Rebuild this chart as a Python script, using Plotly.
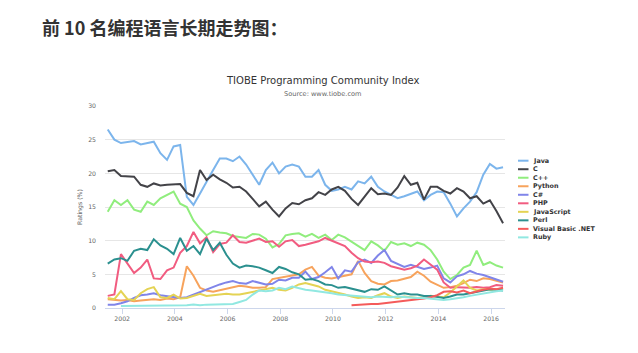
import plotly.graph_objects as go

# quarterly sample dates (mid-month) from 2001-06 to 2016-06
dates = []
y, m = 2001, 6
for _ in range(61):
    dates.append(f"{y:04d}-{m:02d}-15")
    m += 3
    if m > 12:
        m -= 12
        y += 1

java = [26.5, 25.0, 24.5, 24.6, 24.8, 24.3, 24.5, 24.7, 23.0, 22.0, 24.0, 24.2, 16.5, 15.3, 17.0, 18.8,
        20.5, 22.2, 22.2, 21.8, 22.5, 21.3, 19.7, 18.3, 20.5, 21.6, 20.0, 21.0, 21.3, 21.0, 19.5, 19.5,
        20.5, 18.3, 17.4, 17.6, 18.0, 17.6, 18.8, 18.5, 19.5, 18.0, 17.3, 16.8, 16.3, 16.6, 17.0, 17.3,
        16.0, 16.8, 17.3, 17.2, 15.5, 13.6, 14.8, 15.8, 17.2, 19.8, 21.4, 20.7, 20.9]
c_lang = [20.3, 20.5, 19.6, 19.5, 19.5, 18.3, 18.0, 18.5, 18.2, 18.3, 18.3, 18.4, 17.1, 16.6, 20.5, 19.0,
          19.8, 19.1, 18.6, 17.9, 18.0, 17.3, 16.2, 15.1, 15.8, 14.6, 13.6, 14.8, 15.6, 15.4, 16.0, 16.3,
          17.2, 16.8, 17.6, 18.0, 17.4, 16.2, 15.3, 16.5, 17.8, 16.9, 17.0, 16.8, 17.9, 19.6, 18.3, 18.6,
          16.1, 18.0, 18.0, 17.4, 17.0, 17.8, 17.3, 16.3, 16.6, 15.5, 16.0, 14.4, 12.6]
cpp = [14.3, 16.0, 15.3, 16.0, 14.6, 14.3, 15.8, 15.3, 16.3, 16.8, 17.3, 15.5, 15.0, 13.0, 11.8, 10.8,
       11.4, 11.2, 11.1, 10.7, 10.6, 10.4, 11.0, 10.9, 10.3, 9.0, 9.5, 10.8, 11.0, 11.1, 10.6, 11.0,
       10.4, 10.9, 10.1, 10.9, 10.5, 9.9, 9.2, 8.6, 9.9, 9.3, 8.5, 9.8, 9.4, 9.6, 9.2, 9.7,
       9.4, 8.6, 7.2, 5.4, 4.3, 4.9, 6.0, 6.4, 8.5, 6.4, 6.8, 6.3, 6.0]
python = [1.3, 1.2, 1.1, 1.2, 1.0, 1.1, 1.2, 1.3, 1.2, 1.4, 1.3, 1.6, 6.2, 4.8, 3.0, 2.6,
          2.4, 2.6, 2.8, 3.0, 3.3, 3.2, 3.0, 3.0, 3.1, 4.3, 4.5, 4.6, 4.8, 5.0, 5.7, 6.1,
          4.8, 4.5, 4.4, 4.6, 4.7, 5.0, 7.0, 5.2, 4.0, 3.6, 3.5, 4.0, 4.1, 4.3, 4.6, 5.4,
          4.8, 3.9, 3.4, 3.0, 3.1, 3.3, 3.7, 4.2, 4.0, 4.4, 4.3, 4.0, 3.8]
csharp = [0.5, 0.5, 0.7, 1.0, 1.5, 1.9, 2.0, 2.2, 1.9, 1.8, 1.6, 1.5, 1.6, 2.0, 2.3, 2.7,
          3.2, 3.5, 3.8, 4.0, 3.7, 3.6, 4.0, 3.8, 3.5, 3.6, 4.2, 4.1, 4.5, 4.5, 5.4, 4.3,
          4.6, 5.3, 6.1, 4.4, 5.6, 5.4, 6.8, 7.2, 6.7, 7.8, 8.6, 7.0, 6.5, 6.1, 6.4, 6.1,
          5.8, 6.0, 6.3, 4.4, 3.8, 4.7, 5.0, 5.5, 5.1, 4.9, 4.6, 4.2, 3.9]
php = [1.8, 2.0, 8.0, 6.6, 5.2, 6.0, 7.2, 4.4, 4.3, 5.6, 6.0, 8.2, 9.2, 11.3, 9.6, 10.5,
       8.3, 9.5, 9.7, 10.8, 9.8, 9.7, 10.0, 10.3, 9.8, 9.9, 9.1, 9.9, 10.1, 9.2, 9.4, 9.6,
       9.9, 10.4, 10.0, 9.7, 9.2, 8.2, 7.4, 6.9, 6.8, 6.9, 6.7, 6.2, 6.0, 5.7, 5.9, 6.3,
       7.2, 6.4, 5.7, 3.8, 3.0, 3.1, 3.0, 3.0, 3.1, 3.0, 3.1, 3.4, 3.3]
javascript = [1.5, 1.3, 2.5, 1.3, 1.2, 2.2, 2.8, 3.1, 1.6, 1.5, 2.0, 1.4, 1.5, 1.8, 2.1, 1.8,
              1.9, 2.0, 2.1, 2.0, 2.0, 2.2, 2.4, 2.6, 2.8, 3.0, 2.7, 2.6, 3.0, 3.5, 3.7, 3.5,
              3.2, 2.7, 2.5, 2.3, 2.0, 1.7, 1.5, 1.6, 1.5, 1.9, 2.2, 1.7, 1.5, 1.7, 1.6, 1.5,
              1.6, 1.8, 1.7, 1.6, 2.3, 3.2, 4.1, 3.0, 2.6, 2.8, 2.7, 2.8, 2.9]
perl = [6.6, 7.2, 7.4, 7.0, 8.5, 8.8, 8.6, 10.2, 9.3, 8.8, 8.0, 10.4, 8.5, 9.2, 8.0, 10.3,
        8.6, 9.7, 7.9, 6.6, 6.0, 6.3, 6.2, 6.0, 5.6, 5.2, 6.1, 5.8, 5.3, 5.0, 4.2, 4.3,
        4.0, 3.5, 3.4, 3.0, 3.1, 2.9, 2.7, 2.4, 2.8, 2.7, 3.2, 2.6, 2.0, 2.2, 2.0, 2.0,
        1.8, 1.8, 1.7, 1.5, 1.7, 2.0, 2.0, 2.2, 2.4, 2.7, 2.8, 2.7, 2.6]
vbnet = [None] * 37 + [0.4, 0.5, 0.5, 0.6, 0.6, 0.7, 0.8, 0.9, 1.0, 1.1, 1.2, 1.4, 1.6,
                       1.9, 2.4, 2.5, 2.3, 2.6, 2.2, 2.5, 2.7, 2.9, 2.8, 3.0]
ruby = [None, None, 0.3, 0.3, 0.4, 0.4, 0.4, 0.4, 0.4, 0.4, 0.4, 0.4, 0.4, 0.5, 0.4, 0.5,
        0.5, 0.5, 0.5, 0.6, 0.9, 1.2, 2.0, 2.6, 2.5, 2.6, 3.0, 2.8, 3.2, 2.9, 2.7, 2.6,
        2.5, 2.4, 2.2, 2.0, 1.9, 1.8, 1.7, 1.7, 1.6, 1.7, 1.6, 1.6, 1.7, 1.6, 1.6, 1.5,
        1.5, 1.4, 1.3, 1.2, 1.3, 1.4, 1.6, 1.8, 2.0, 2.2, 2.4, 2.5, 2.6]

names = ["Java", "C", "C++", "Python", "C#", "PHP", "JavaScript", "Perl", "Visual Basic .NET", "Ruby"]
series = [java, c_lang, cpp, python, csharp, php, javascript, perl, vbnet, ruby]
colors = ["#7cb5ec", "#434348", "#90ed7d", "#f7a35c", "#8085e9",
          "#f15c80", "#e4d354", "#2b908f", "#f45b5b", "#91e8e1"]
year_ticks = ["2002", "2004", "2006", "2008", "2010", "2012", "2014", "2016"]

W, H = 638, 353
L, R, T, B = 105, 133, 106, 45
PW, PH = W - L - R, H - T - B


def px(x):
    return (x - L) / PW


def py(y):
    return (H - B - y) / PH


fig = go.Figure()
for name, vals, col in zip(names, series, colors):
    fig.add_trace(go.Scatter(x=dates, y=vals, name=name, mode="lines",
                             line=dict(color=col, width=2), showlegend=False))

FONT = "DejaVu Sans"
annotations = [
    dict(text="<b>前 10 名编程语言长期走势图：</b>", x=px(40), y=py(27), xanchor="left", yanchor="middle",
         font=dict(family="Noto Sans CJK SC", size=18, color="#333333")),
    dict(text="TIOBE Programming Community Index", x=px(323), y=py(81), xanchor="center", yanchor="middle",
         font=dict(family=FONT, size=10, color="#333333")),
    dict(text="Source: www.tiobe.com", x=px(323), y=py(94), xanchor="center", yanchor="middle",
         font=dict(family=FONT, size=6.6, color="#666666")),
    dict(text="Ratings (%)", x=px(80), y=py(207), xanchor="center", yanchor="middle", textangle=-90,
         font=dict(family=FONT, size=6.2, color="#666666")),
]
shapes = []
for i, (name, col) in enumerate(zip(names, colors)):
    yy = 160.7 + 8.52 * i
    shapes.append(dict(type="line", xref="paper", yref="paper", x0=px(518), x1=px(528.5),
                       y0=py(yy), y1=py(yy), line=dict(color=col, width=2)))
    annotations.append(dict(text=f"<b>{name}</b>", x=px(530.5), y=py(yy), xanchor="left", yanchor="middle",
                            font=dict(family=FONT, size=6.4, color="#333333")))
for a in annotations:
    a.update(xref="paper", yref="paper", showarrow=False)

fig.update_layout(
    width=W, height=H, margin=dict(l=L, r=R, t=T, b=B, autoexpand=False),
    paper_bgcolor="white", plot_bgcolor="white",
    annotations=annotations, shapes=shapes,
    xaxis=dict(type="date", range=["2001-05-08", "2016-07-12"],
               tickvals=[f"{t}-01-01" for t in year_ticks], ticktext=year_ticks,
               showgrid=False, zeroline=False, showline=True, linecolor="#ccd6eb", linewidth=1,
               ticks="outside", ticklen=5, tickcolor="#ccd6eb",
               tickfont=dict(family=FONT, size=6.2, color="#666666")),
    yaxis=dict(range=[0, 30], tickvals=[0, 5, 10, 15, 20, 25, 30], showgrid=True, gridcolor="#e6e6e6",
               gridwidth=1, zeroline=False, showline=False, ticks="", ticklabelstandoff=8,
               tickfont=dict(family=FONT, size=6.2, color="#666666")),
)
fig.write_html("out.html")
